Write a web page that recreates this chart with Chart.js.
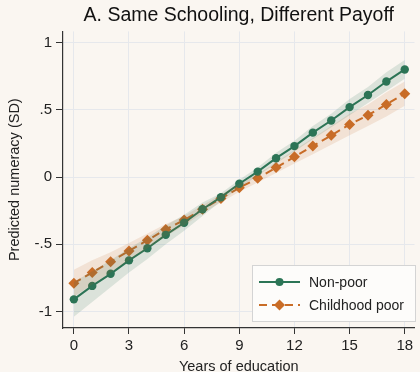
<!DOCTYPE html>
<html>
<head>
<meta charset="utf-8">
<script src="https://cdn.jsdelivr.net/npm/chart.js@4"></script>
<style>
  html, body { margin: 0; padding: 0; background: #faf6f1; }
  #wrap { width: 420px; height: 372px; }
</style>
</head>
<body>
<div id="wrap"><canvas id="chart"></canvas></div>
<script>
// years of education
const years = [0, 1, 2, 3, 4, 5, 6, 7, 8, 9, 10, 11, 12, 13, 14, 15, 16, 17, 18];

// Non-poor: predicted numeracy and 95% band
const nonPoor    = [-0.91, -0.81, -0.72, -0.62, -0.53, -0.43, -0.34, -0.24, -0.15, -0.05, 0.04, 0.14, 0.23, 0.33, 0.42, 0.52, 0.61, 0.71, 0.80];
const nonPoorLo  = [-1.04, -0.93, -0.82, -0.71, -0.61, -0.50, -0.40, -0.29, -0.18, -0.08, 0.01, 0.10, 0.19, 0.28, 0.37, 0.46, 0.55, 0.64, 0.73];
const nonPoorHi  = [-0.78, -0.70, -0.62, -0.53, -0.45, -0.36, -0.28, -0.19, -0.12, -0.02, 0.07, 0.18, 0.27, 0.38, 0.47, 0.58, 0.67, 0.78, 0.87];

// Childhood poor
const poor    = [-0.79, -0.71, -0.63, -0.55, -0.47, -0.39, -0.32, -0.24, -0.16, -0.08, -0.01, 0.07, 0.15, 0.23, 0.31, 0.39, 0.46, 0.54, 0.62];
const poorLo  = [-0.89, -0.80, -0.71, -0.62, -0.53, -0.44, -0.36, -0.27, -0.19, -0.11, -0.04, 0.03, 0.10, 0.17, 0.24, 0.31, 0.38, 0.45, 0.53];
const poorHi  = [-0.69, -0.62, -0.56, -0.49, -0.42, -0.35, -0.29, -0.21, -0.13, -0.05, 0.02, 0.11, 0.20, 0.29, 0.38, 0.47, 0.54, 0.63, 0.71];

const xTicks = [0, 3, 6, 9, 12, 15, 18];
const yTicks = [-1, -0.5, 0, 0.5, 1];
const yTickLabels = ['-1', '-.5', '0', '.5', '1'];

const GREEN = '#2c7556';
const ORANGE = '#c96d27';
const FONT = 'Arial, "Liberation Sans", sans-serif';

const pts = arr => years.map((x, i) => ({ x: x, y: arr[i] }));

const bgPlugin = {
  id: 'bg',
  beforeDraw(chart) {
    const ctx = chart.ctx;
    ctx.save();
    ctx.fillStyle = '#faf6f1';
    ctx.fillRect(0, 0, chart.width, chart.height);
    ctx.restore();
  }
};

// legend box drawn inside the plot, bottom right
const legendPlugin = {
  id: 'insideLegend',
  afterDraw(chart) {
    const ctx = chart.ctx;
    const x0 = 252, y0 = 265, w = 164, h = 57;
    ctx.save();
    ctx.fillStyle = '#fdfcfa';
    ctx.strokeStyle = '#d4d4d4';
    ctx.lineWidth = 1;
    ctx.fillRect(x0, y0, w, h);
    ctx.strokeRect(x0 + 0.5, y0 + 0.5, w - 1, h - 1);

    const rows = [
      { label: 'Non-poor', color: GREEN, dash: [], marker: 'circle', y: y0 + 17 },
      { label: 'Childhood poor', color: ORANGE, dash: [8, 5], marker: 'diamond', y: y0 + 40 }
    ];
    rows.forEach(r => {
      ctx.strokeStyle = r.color;
      ctx.lineWidth = 2;
      ctx.setLineDash(r.dash);
      ctx.beginPath();
      ctx.moveTo(259, r.y);
      ctx.lineTo(300, r.y);
      ctx.stroke();
      ctx.setLineDash([]);
      ctx.fillStyle = r.color;
      ctx.beginPath();
      if (r.marker === 'circle') {
        ctx.arc(279.5, r.y, 4, 0, Math.PI * 2);
      } else {
        ctx.moveTo(279.5, r.y - 5.5);
        ctx.lineTo(285, r.y);
        ctx.lineTo(279.5, r.y + 5.5);
        ctx.lineTo(274, r.y);
        ctx.closePath();
      }
      ctx.fill();
      ctx.fillStyle = '#222';
      ctx.font = '14px ' + FONT;
      ctx.textBaseline = 'middle';
      ctx.textAlign = 'left';
      ctx.fillText(r.label, 309, r.y + 1);
    });
    ctx.restore();
  }
};

new Chart(document.getElementById('chart'), {
  type: 'line',
  data: {
    datasets: [
      { label: 'np_lo', data: pts(nonPoorLo), borderWidth: 0, pointRadius: 0, fill: false, backgroundColor: 'rgba(44,117,86,0.15)', borderColor: 'rgba(0,0,0,0)' },
      { label: 'np_hi', data: pts(nonPoorHi), borderWidth: 0, pointRadius: 0, fill: '-1', backgroundColor: 'rgba(44,117,86,0.15)', borderColor: 'rgba(0,0,0,0)' },
      { label: 'p_lo', data: pts(poorLo), borderWidth: 0, pointRadius: 0, fill: false, backgroundColor: 'rgba(201,109,39,0.14)', borderColor: 'rgba(0,0,0,0)' },
      { label: 'p_hi', data: pts(poorHi), borderWidth: 0, pointRadius: 0, fill: '-1', backgroundColor: 'rgba(201,109,39,0.14)', borderColor: 'rgba(0,0,0,0)' },
      { label: 'Non-poor', data: pts(nonPoor), borderColor: GREEN, backgroundColor: GREEN, borderWidth: 2,
        pointStyle: 'circle', pointRadius: 4.2, pointBorderWidth: 0, fill: false },
      { label: 'Childhood poor', data: pts(poor), borderColor: ORANGE, backgroundColor: ORANGE, borderWidth: 2, borderDash: [8, 5],
        pointStyle: 'rectRot', pointRadius: 5.5, pointBorderWidth: 0, fill: false }
    ]
  },
  options: {
    responsive: true,
    maintainAspectRatio: false,
    animation: false,
    layout: { padding: { left: 0, right: 0, top: 0, bottom: 0 } },
    plugins: {
      legend: { display: false },
      tooltip: { enabled: false },
      title: {
        display: true,
        text: 'A. Same Schooling, Different Payoff',
        fullSize: false,
        color: '#111',
        font: { family: FONT, size: 19.5, weight: 'normal' },
        padding: { top: 4, bottom: 4 }
      }
    },
    scales: {
      x: {
        type: 'linear',
        min: -0.59,
        max: 18.53,
        afterBuildTicks: s => { s.ticks = xTicks.map(v => ({ value: v })); },
        afterFit: s => { s.height = 44; },
        ticks: { color: '#222', font: { family: FONT, size: 15 }, padding: 3, autoSkip: false, maxRotation: 0 },
        grid: { color: '#e6e8ec', borderDash: [5, 5], tickColor: '#333', tickLength: 6, tickBorderDash: [] },
        border: { color: '#333', width: 1.2 },
        title: { display: true, text: 'Years of education', color: '#222', font: { family: FONT, size: 14.5 }, padding: { top: 0, bottom: -4 } }
      },
      y: {
        type: 'linear',
        min: -1.123,
        max: 1.083,
        afterBuildTicks: s => { s.ticks = yTicks.map(v => ({ value: v })); },
        afterFit: s => { s.width = 63; },
        ticks: {
          color: '#222', font: { family: FONT, size: 15 }, padding: 4,
          callback: v => yTickLabels[yTicks.indexOf(v)]
        },
        grid: { color: '#e6e8ec', borderDash: [5, 5], tickColor: '#333', tickLength: 7, tickBorderDash: [] },
        border: { color: '#333', width: 1.2 },
        title: { display: true, text: 'Predicted numeracy (SD)', color: '#222', font: { family: FONT, size: 14.5 }, padding: { top: 6, bottom: 0 } }
      }
    }
  },
  plugins: [bgPlugin, legendPlugin]
});
</script>
</body>
</html>
